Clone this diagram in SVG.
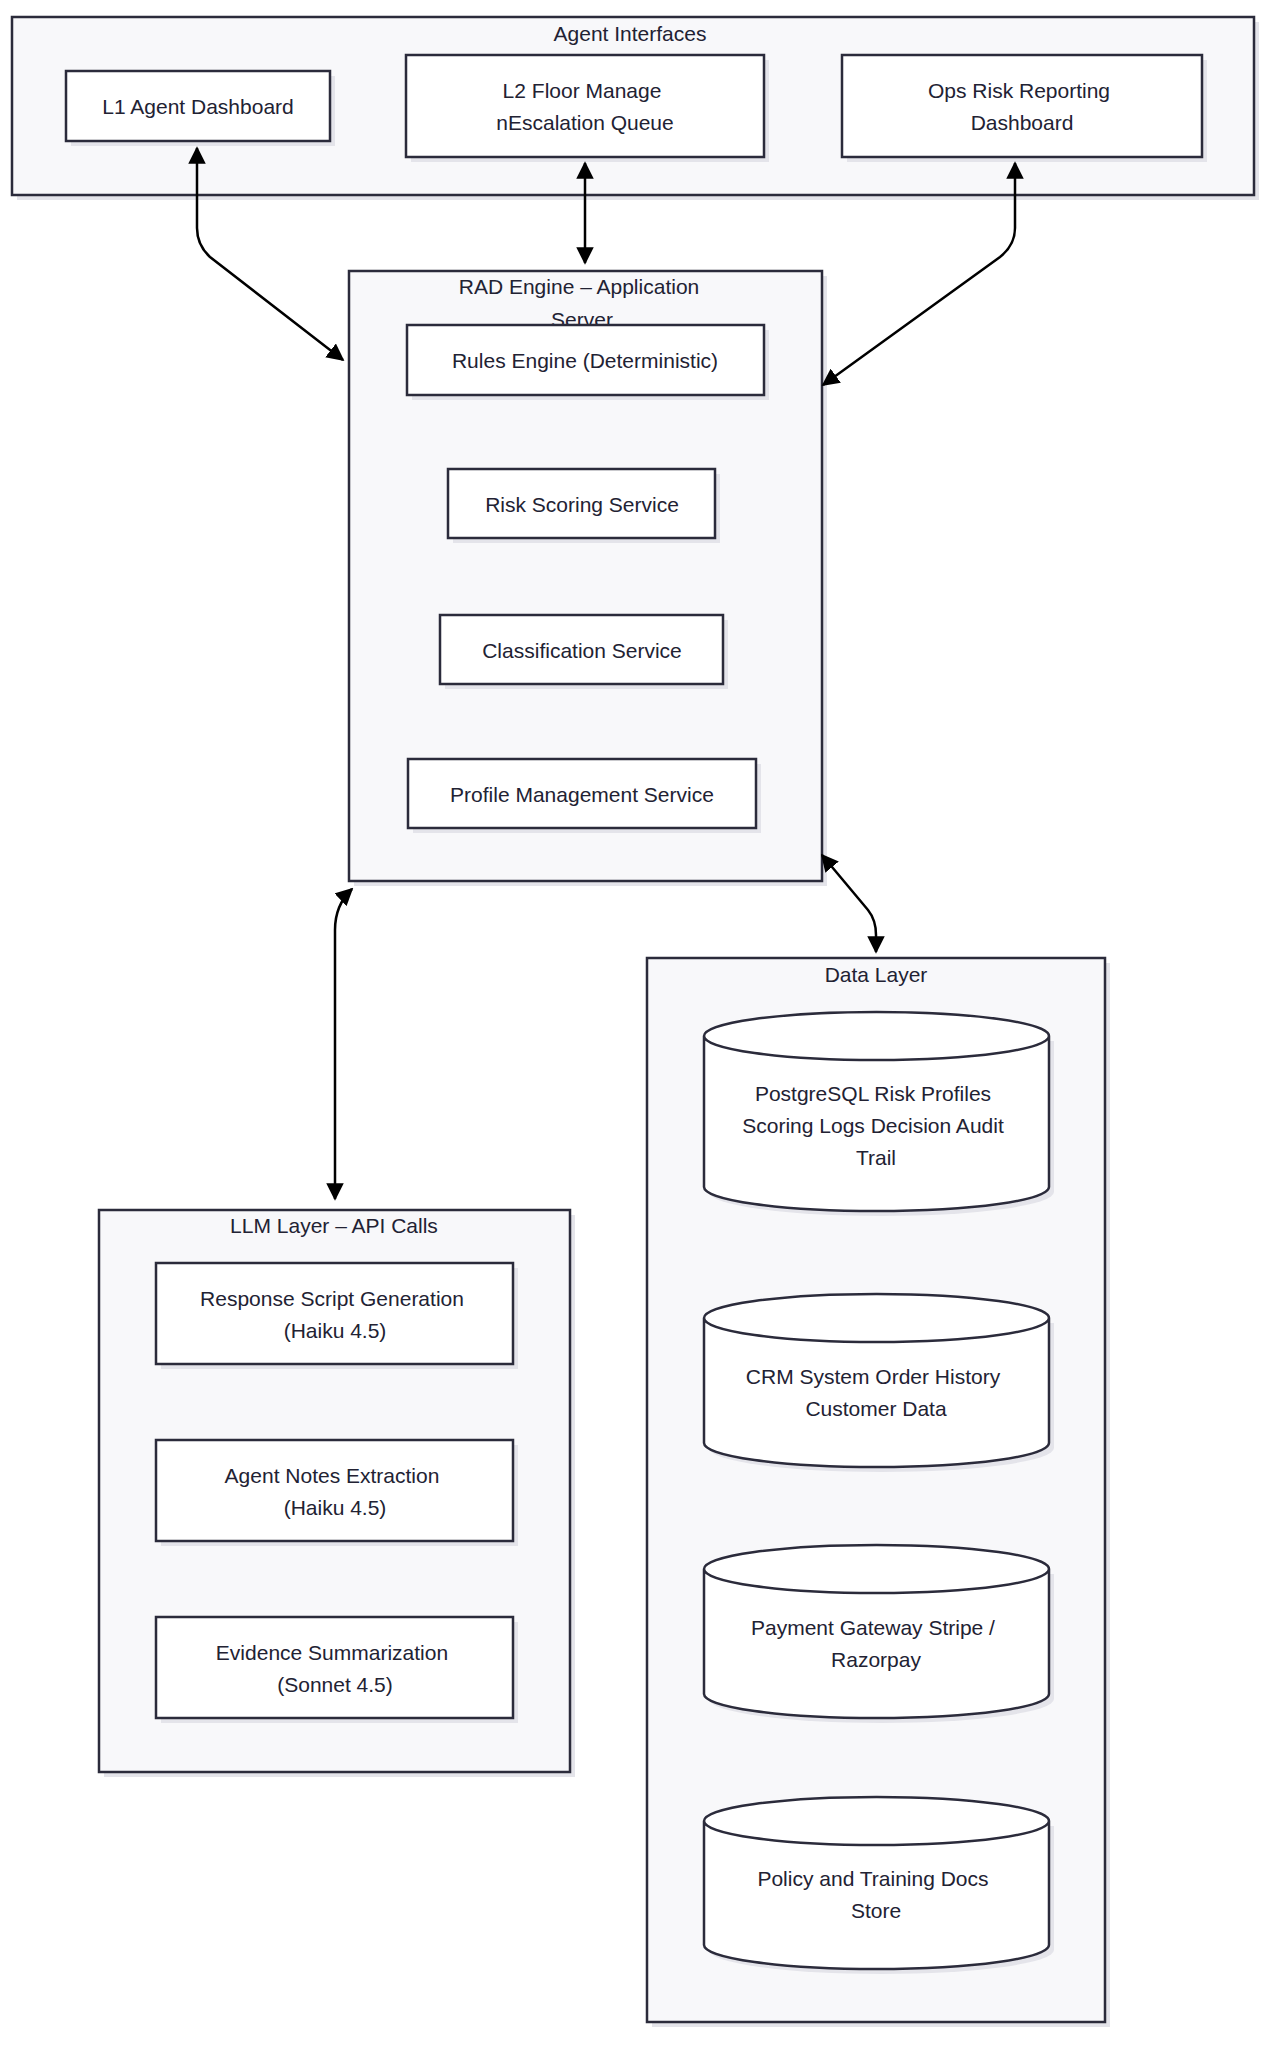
<svg xmlns="http://www.w3.org/2000/svg" width="1263" height="2048" viewBox="0 0 1263 2048">
<style>
text{font-family:"Liberation Sans",Arial,sans-serif;font-size:21px;fill:#222233;text-anchor:middle;dominant-baseline:central}
.cl{fill:#f8f8fa;stroke:#2b2b3b;stroke-width:2.5}
.nd{fill:#fff;stroke:#2b2b3b;stroke-width:2.5}
.sh{fill:#e4e4ea}
.e{fill:none;stroke:#000;stroke-width:2.5;marker-start:url(#a);marker-end:url(#a)}
</style>
<defs><marker id="a" viewBox="0 0 10 10" refX="9" refY="5" markerWidth="7" markerHeight="7" orient="auto-start-reverse"><path d="M0,0L10,5L0,10z" fill="#000"/></marker></defs>
<rect fill="#fff" width="1263" height="2048"/>
<g id="agent-interfaces"><rect class="sh" x="17" y="22" width="1242" height="178"/><rect class="cl" x="12" y="17" width="1242" height="178"/><text x="630" y="33">Agent Interfaces</text></g>
<g id="rad-engine"><rect class="sh" x="354" y="276" width="473" height="610"/><rect class="cl" x="349" y="271" width="473" height="610"/><text x="579" y="286">RAD Engine – Application</text><text x="582" y="319">Server</text></g>
<g id="llm-layer"><rect class="sh" x="104" y="1215" width="471" height="562"/><rect class="cl" x="99" y="1210" width="471" height="562"/><text x="334" y="1225">LLM Layer – API Calls</text></g>
<g id="data-layer"><rect class="sh" x="652" y="963" width="458" height="1064"/><rect class="cl" x="647" y="958" width="458" height="1064"/><text x="876" y="974">Data Layer</text></g>
<g id="l1"><rect class="sh" x="71" y="76" width="264" height="70"/><rect class="nd" x="66" y="71" width="264" height="70"/><text x="198" y="106">L1 Agent Dashboard</text></g>
<g id="l2"><rect class="sh" x="411" y="60" width="358" height="102"/><rect class="nd" x="406" y="55" width="358" height="102"/><text x="582" y="90">L2 Floor Manage</text><text x="585" y="122">nEscalation Queue</text></g>
<g id="ops"><rect class="sh" x="847" y="60" width="360" height="102"/><rect class="nd" x="842" y="55" width="360" height="102"/><text x="1019" y="90">Ops Risk Reporting</text><text x="1022" y="122">Dashboard</text></g>
<g id="rules"><rect class="sh" x="412" y="330" width="357" height="70"/><rect class="nd" x="407" y="325" width="357" height="70"/><text x="585" y="360">Rules Engine (Deterministic)</text></g>
<g id="risk"><rect class="sh" x="453" y="474" width="267" height="69"/><rect class="nd" x="448" y="469" width="267" height="69"/><text x="582" y="504">Risk Scoring Service</text></g>
<g id="class"><rect class="sh" x="445" y="620" width="283" height="69"/><rect class="nd" x="440" y="615" width="283" height="69"/><text x="582" y="650">Classification Service</text></g>
<g id="profile"><rect class="sh" x="413" y="764" width="348" height="69"/><rect class="nd" x="408" y="759" width="348" height="69"/><text x="582" y="794">Profile Management Service</text></g>
<g id="resp"><rect class="sh" x="161" y="1268" width="357" height="101"/><rect class="nd" x="156" y="1263" width="357" height="101"/><text x="332" y="1298">Response Script Generation</text><text x="335" y="1330">(Haiku 4.5)</text></g>
<g id="notes"><rect class="sh" x="161" y="1445" width="357" height="101"/><rect class="nd" x="156" y="1440" width="357" height="101"/><text x="332" y="1475">Agent Notes Extraction</text><text x="335" y="1507">(Haiku 4.5)</text></g>
<g id="evid"><rect class="sh" x="161" y="1622" width="357" height="101"/><rect class="nd" x="156" y="1617" width="357" height="101"/><text x="332" y="1652">Evidence Summarization</text><text x="335" y="1684">(Sonnet 4.5)</text></g>
<g id="pg"><path class="sh" d="M709,1041v151a172,24 0 0 0 345,0v-151z"/><path class="nd" d="M704,1036v151a172,24 0 0 0 345,0v-151a172,24 0 0 0 -345,0a172,24 0 0 0 345,0"/><text x="873" y="1093">PostgreSQL Risk Profiles</text><text x="873" y="1125">Scoring Logs Decision Audit</text><text x="876" y="1157">Trail</text></g>
<g id="crm"><path class="sh" d="M709,1323v125a172,24 0 0 0 345,0v-125z"/><path class="nd" d="M704,1318v125a172,24 0 0 0 345,0v-125a172,24 0 0 0 -345,0a172,24 0 0 0 345,0"/><text x="873" y="1376">CRM System Order History</text><text x="876" y="1408">Customer Data</text></g>
<g id="pay"><path class="sh" d="M709,1574v125a172,24 0 0 0 345,0v-125z"/><path class="nd" d="M704,1569v125a172,24 0 0 0 345,0v-125a172,24 0 0 0 -345,0a172,24 0 0 0 345,0"/><text x="873" y="1627">Payment Gateway Stripe /</text><text x="876" y="1659">Razorpay</text></g>
<g id="docs"><path class="sh" d="M709,1826v124a172,24 0 0 0 345,0v-124z"/><path class="nd" d="M704,1821v124a172,24 0 0 0 345,0v-124a172,24 0 0 0 -345,0a172,24 0 0 0 345,0"/><text x="873" y="1878">Policy and Training Docs</text><text x="876" y="1910">Store</text></g>
<g id="connectors">
<path class="e" d="M197,148V228Q197,245 210,257L343,360"/>
<path class="e" d="M585,163V263"/>
<path class="e" d="M1015,163V228Q1015,245 1000,257L823,385"/>
<path class="e" d="M352,889Q335,905 335,930V1199"/>
<path class="e" d="M822,855L868,910Q876,920 876,935V952"/>
</g>
</svg>
